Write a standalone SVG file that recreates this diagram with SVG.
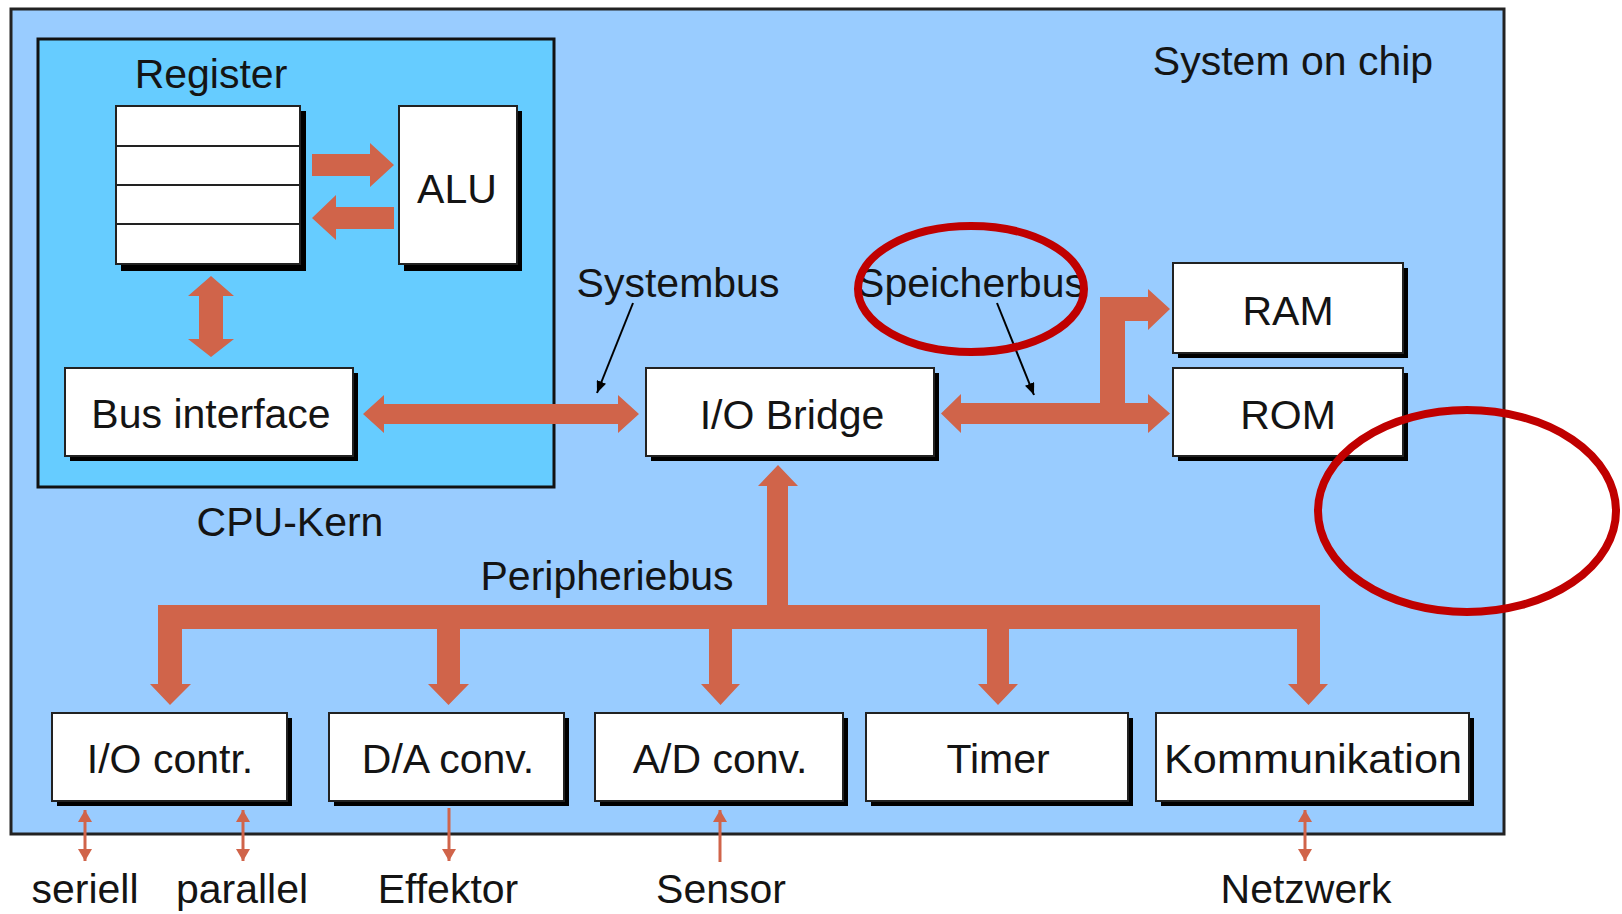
<svg xmlns="http://www.w3.org/2000/svg" width="1622" height="914" viewBox="0 0 1622 914">
<defs>
<style>
text{font-family:"Liberation Sans",Arial,sans-serif;font-size:41px;fill:#141414;text-anchor:middle}
.box{fill:#fff;stroke:#222;stroke-width:2}
.sh{fill:#000}
.bus{fill:#D0644A}
.small{stroke:#D0644A;stroke-width:3;fill:none}
.lead{stroke:#000;stroke-width:2;fill:none}
.mark{fill:none;stroke:#C00000;stroke-width:8}
</style>
<marker id="sa" viewBox="0 0 12 14" refX="12" refY="7" markerWidth="12" markerHeight="14" markerUnits="userSpaceOnUse" orient="auto-start-reverse"><path d="M0,0 L12,7 L0,14 z" fill="#D0644A"/></marker>
<marker id="la" viewBox="0 0 12 10" refX="12" refY="5" markerWidth="12" markerHeight="10" markerUnits="userSpaceOnUse" orient="auto"><path d="M0,0 L12,5 L0,10 z" fill="#000"/></marker>
</defs>
<rect width="1622" height="914" fill="#fff"/>
<g id="soc">
<rect x="11" y="9" width="1493" height="825" fill="#99CCFF" stroke="#222" stroke-width="3"/>
<text x="1293" y="75">System on chip</text>
</g>
<g id="cpu">
<rect x="38" y="39" width="516" height="448" fill="#66CCFF" stroke="#111" stroke-width="3"/>
<text x="290" y="536">CPU-Kern</text>
</g>
<g id="register">
<text x="211" y="88">Register</text>
<rect class="sh" x="121" y="111" width="185" height="160"/>
<rect class="box" x="116" y="106" width="184" height="158"/>
<path d="M116,146 H300 M116,185 H300 M116,224 H300" stroke="#222" stroke-width="2"/>
</g>
<g id="alu">
<rect class="sh" x="404" y="111" width="118" height="160"/>
<rect class="box" x="399" y="106" width="118" height="158"/>
<text x="457" y="203">ALU</text>
</g>
<g id="businterface">
<rect class="sh" x="70" y="373" width="288" height="88"/>
<rect class="box" x="65" y="368" width="288" height="88"/>
<text x="211" y="428">Bus interface</text>
</g>
<g id="iobridge">
<rect class="sh" x="651" y="373" width="288" height="88"/>
<rect class="box" x="646" y="368" width="288" height="88"/>
<text x="792" y="429">I/O Bridge</text>
</g>
<g id="ram">
<rect class="sh" x="1178" y="268" width="230" height="90"/>
<rect class="box" x="1173" y="263" width="230" height="90"/>
<text x="1288" y="325">RAM</text>
</g>
<g id="rom">
<rect class="sh" x="1178" y="373" width="230" height="88"/>
<rect class="box" x="1173" y="368" width="230" height="88"/>
<text x="1288" y="429">ROM</text>
</g>
<g id="iocontr">
<rect class="sh" x="57" y="718" width="235" height="88"/>
<rect class="box" x="52" y="713" width="235" height="88"/>
<text x="170" y="773">I/O contr.</text>
</g>
<g id="daconv">
<rect class="sh" x="334" y="718" width="235" height="88"/>
<rect class="box" x="329" y="713" width="235" height="88"/>
<text x="448" y="773">D/A conv.</text>
</g>
<g id="adconv">
<rect class="sh" x="600" y="718" width="248" height="88"/>
<rect class="box" x="595" y="713" width="248" height="88"/>
<text x="720" y="773">A/D conv.</text>
</g>
<g id="timer">
<rect class="sh" x="871" y="718" width="262" height="88"/>
<rect class="box" x="866" y="713" width="262" height="88"/>
<text x="998" y="773">Timer</text>
</g>
<g id="kommunikation">
<rect class="sh" x="1161" y="718" width="313" height="88"/>
<rect class="box" x="1156" y="713" width="313" height="88"/>
<text x="1313" y="773" textLength="298" lengthAdjust="spacingAndGlyphs">Kommunikation</text>
</g>
<g id="connectors">
<polygon class="bus" points="312,154 370,154 370,143 394,165 370,187 370,176 312,176"/>
<polygon class="bus" points="394,207 336,207 336,195 312,218 336,240 336,229 394,229"/>
<polygon class="bus" points="211,276 234,296 223,296 223,339 234,339 211,357 188,339 199,339 199,296 188,296"/>
<polygon class="bus" points="363,414 384,395 384,404 618,404 618,395 639,414 618,433 618,424 384,424 384,433"/>
<polygon class="bus" points="941,413.5 961,394 961,403 1100,403 1100,297 1148,297 1148,289 1170,309 1148,330 1148,321 1125,321 1125,403 1148,403 1148,394 1170,413.5 1148,433 1148,424 961,424 961,433"/>
<polygon class="bus" points="778,465 798,486 788,486 788,605 1320,605 1320,684 1328,684 1308.5,705 1288,684 1297,684 1297,629 1009,629 1009,684 1018,684 998,705 978,684 987,684 987,629 732,629 732,684 740,684 720.5,705 701,684 709,684 709,629 460,629 460,684 469,684 448.5,705 428,684 437,684 437,629 182,629 182,684 191,684 170,705 150,684 158,684 158,605 767,605 767,486 758,486"/>
<line class="small" x1="85" y1="810" x2="85" y2="861" marker-start="url(#sa)" marker-end="url(#sa)"/>
<line class="small" x1="243" y1="810" x2="243" y2="861" marker-start="url(#sa)" marker-end="url(#sa)"/>
<line class="small" x1="449" y1="808" x2="449" y2="861" marker-end="url(#sa)"/>
<line class="small" x1="720" y1="862" x2="720" y2="810" marker-end="url(#sa)"/>
<line class="small" x1="1305" y1="810" x2="1305" y2="861" marker-start="url(#sa)" marker-end="url(#sa)"/>
<line class="lead" x1="633" y1="303" x2="597" y2="393" marker-end="url(#la)"/>
<line class="lead" x1="997" y1="303" x2="1034" y2="395" marker-end="url(#la)"/>
</g>
<g id="labels">
<text x="678" y="297">Systembus</text>
<text x="971" y="297">Speicherbus</text>
<text x="607" y="590">Peripheriebus</text>
<text x="85" y="903">seriell</text>
<text x="242" y="903">parallel</text>
<text x="448" y="903">Effektor</text>
<text x="721" y="903">Sensor</text>
<text x="1306" y="903">Netzwerk</text>
</g>
<g id="marks">
<ellipse class="mark" cx="971" cy="289" rx="113" ry="63"/>
<ellipse class="mark" cx="1467" cy="511" rx="149" ry="101"/>
</g>
</svg>
